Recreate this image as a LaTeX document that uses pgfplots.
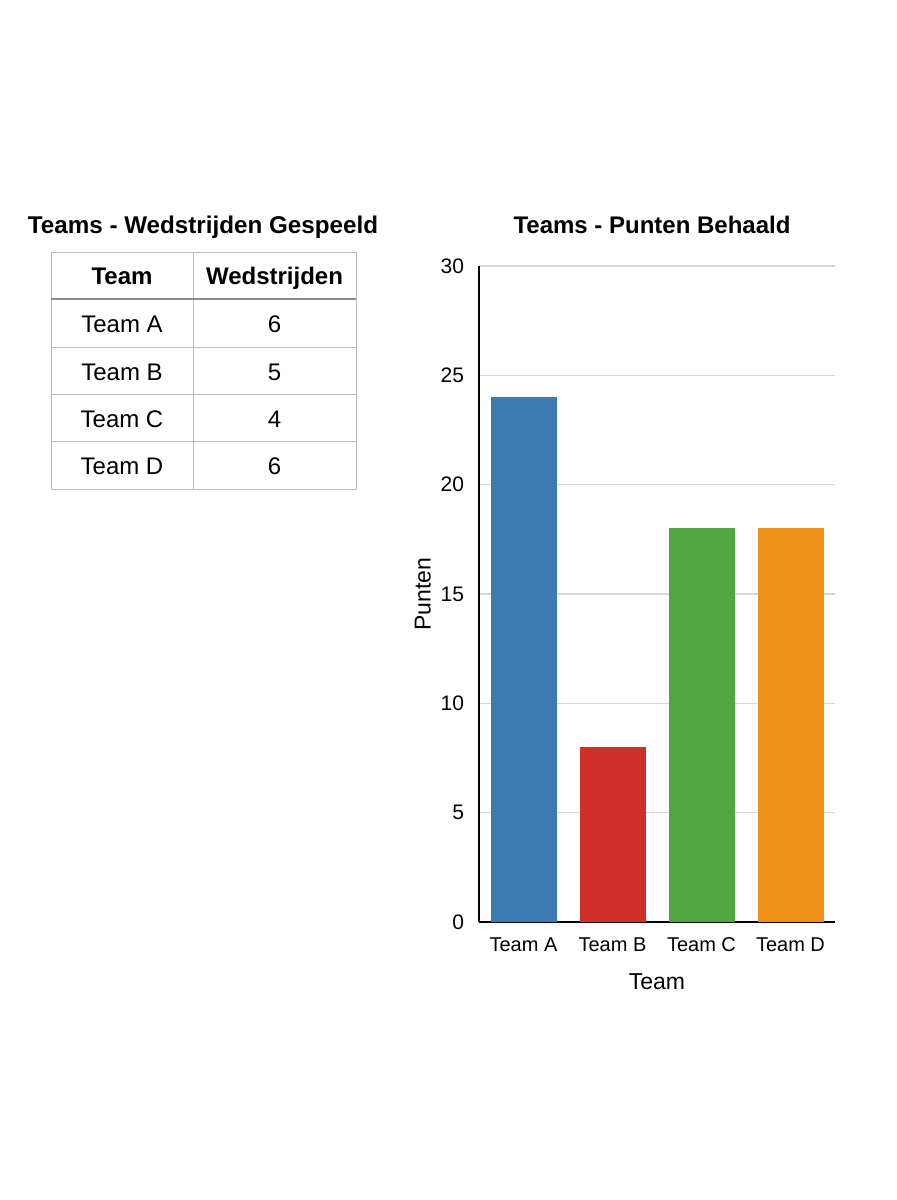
\documentclass[border=0pt]{standalone}
\usepackage{pgfplots}
\pgfplotsset{compat=1.18}
\usepackage{fontspec}
\setmainfont{Liberation Sans}
\definecolor{cA}{HTML}{3D79B2}
\definecolor{cB}{HTML}{D0302A}
\definecolor{cC}{HTML}{53A53F}
\definecolor{cD}{HTML}{EE9119}
\definecolor{gridc}{HTML}{D6D6D6}
\definecolor{tabline}{HTML}{BBBBBB}
\begin{document}
\begin{tikzpicture}
\useasboundingbox (0,0) rectangle (448pt,600pt);
\fill[white] (0,0) rectangle (448pt,600pt);
\begin{scope}[x=0.5pt,y=-0.5pt,shift={(0,600pt)}]
  % table title
  \node[font=\fontsize{12.1}{14}\selectfont\bfseries, text height=9pt, text depth=3pt] at (203,228) {Teams - Wedstrijden Gespeeld};
  % table grid
  \draw[tabline, line width=0.5pt] (51,253) rectangle (356,490);
  \draw[tabline, line width=0.5pt] (193,253) -- (193,490);
  \foreach \yy in {348,395,442} \draw[tabline, line width=0.5pt] (51,\yy) -- (356,\yy);
  \draw[black!45, line width=0.9pt] (51,299) -- (356,299);
  \begin{scope}[every node/.style={font=\fontsize{12}{14}\selectfont, text height=8.6pt, text depth=2.4pt}]
  \node[font=\fontsize{12}{14}\selectfont\bfseries] at (122,278) {Team};
  \node[font=\fontsize{12}{14}\selectfont\bfseries] at (274.5,278) {Wedstrijden};
  \node at (122,326) {Team A}; \node at (274.5,326) {6};
  \node at (122,374) {Team B}; \node at (274.5,374) {5};
  \node at (122,421) {Team C}; \node at (274.5,421) {4};
  \node at (122,468) {Team D}; \node at (274.5,468) {6};
  \end{scope}
  % chart title
  \node[font=\fontsize{12}{14}\selectfont\bfseries, text height=9pt, text depth=3pt] at (652,228) {Teams - Punten Behaald};
\end{scope}
\begin{axis}[
  at={(239.5pt,139pt)}, anchor=south west,
  scale only axis, width=178pt, height=328pt,
  xmin=-0.5, xmax=3.5, ymin=0, ymax=30,
  axis x line=bottom, axis y line=left,
  axis line style={-, black, line width=0.8pt},
  xtick={0,1,2,3}, xticklabels={Team A,Team B,Team C,Team D},
  ytick={0,5,...,30},
  major tick length=0pt,
  ymajorgrids, grid style={gridc, line width=0.6pt},
  /pgf/number format/assume math mode=true,
  tick label style={font=\fontsize{10}{12}\selectfont},
  yticklabel style={font=\fontsize{10.5}{12}\selectfont, xshift=-4pt},
  xticklabel style={yshift=-3.5pt, text height=7.5pt, text depth=2pt},
  xlabel={Team}, ylabel={Punten},
  label style={font=\fontsize{11.5}{13}\selectfont},
  xlabel style={yshift=-2.5pt},
  ylabel style={yshift=-2pt},
  ybar, bar width=33pt, bar shift=0pt,
  every axis plot/.append style={draw=none},
]
\addplot[fill=cA] coordinates {(0,24)};
\addplot[fill=cB] coordinates {(1,8)};
\addplot[fill=cC] coordinates {(2,18)};
\addplot[fill=cD] coordinates {(3,18)};
\end{axis}
\end{tikzpicture}
\end{document}
